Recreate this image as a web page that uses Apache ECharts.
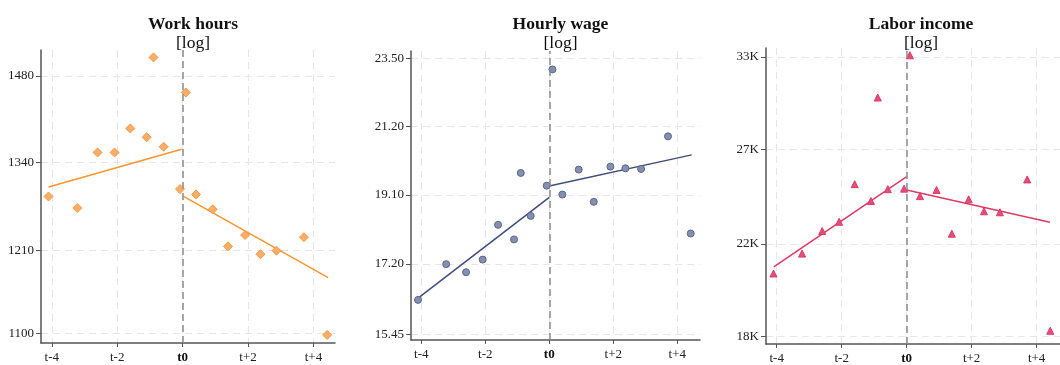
<!DOCTYPE html>
<html>
<head>
<meta charset="utf-8">
<script src="https://cdn.jsdelivr.net/npm/echarts@6/dist/echarts.min.js"></script>
<style>
html,body{margin:0;padding:0;background:#fff;}
#c{width:1060px;height:365px;}
</style>
</head>
<body>
<div id="c"></div>
<script>
// Event time (years relative to t0) of each binned point
var eventTime = [-4.1, -3.22, -2.6, -2.08, -1.6, -1.1, -0.89, -0.58, -0.08, 0.1, 0.41, 0.92, 1.39, 1.91, 2.38, 2.87, 3.71, 4.42];

// Series values (raw units, plotted on log scale)
var workHours = [1288, 1271, 1355, 1355, 1393, 1379, 1512, 1364, 1299, 1452, 1291, 1269, 1216, 1232, 1205, 1210, 1229, 1098];
var hourlyWage = [16.28, 17.19, 16.98, 17.31, 18.25, 17.85, 19.75, 18.50, 19.37, 23.12, 19.11, 19.85, 18.90, 19.94, 19.89, 19.87, 20.88, 18.01];
var laborIncome = [20630, 21540, 22620, 23080, 25040, 24140, 30220, 24770, 24800, 33120, 24400, 24730, 22490, 24230, 23610, 23560, 25300, 18220];

// Fitted lines: [x, value] endpoints, pre and post t0
var hoursFitPre = [[-4.1, 1302], [-0.03, 1360]];
var hoursFitPost = [[0.03, 1288], [4.45, 1173]];
var wageFitPre = [[-4.14, 16.30], [0, 19.03]];
var wageFitPost = [[0, 19.36], [4.45, 20.30]];
var incomeFitPre = [[-4.09, 20930], [0, 25460]];
var incomeFitPost = [[0, 24730], [4.41, 23060]];

// Tick values and labels
var xTicks = [-4, -2, 0, 2, 4];
var xTickLabels = ['t-4', 't-2', 't0', 't+2', 't+4'];
var hoursTicks = [1100, 1210, 1340, 1480];
var hoursTickLabels = ['1100', '1210', '1340', '1480'];
var wageTicks = [15.45, 17.20, 19.10, 21.20, 23.50];
var wageTickLabels = ['15.45', '17.20', '19.10', '21.20', '23.50'];
var incomeTicks = [18000, 22000, 27000, 33000];
var incomeTickLabels = ['18K', '22K', '27K', '33K'];

var titles = ['Work hours', 'Hourly wage', 'Labor income'];

var FONT = '"Liberation Serif", "DejaVu Serif", serif';

var panels = [
  {title: titles[0], vals: workHours, pre: hoursFitPre, post: hoursFitPost, ticks: hoursTicks, labels: hoursTickLabels,
   grid: {left: 41, top: 50, width: 294, height: 293}, xr: [-4.33, 4.66], yr: [6.9919, 7.3297],
   symbol: 'diamond', size: 9, fill: '#F8AE6A', edge: '#F39A45', line: '#F7962F'},
  {title: titles[1], vals: hourlyWage, pre: wageFitPre, post: wageFitPost, ticks: wageTicks, labels: wageTickLabels,
   grid: {left: 411, top: 51, width: 289, height: 289}, xr: [-4.32, 4.71], yr: [2.7289, 3.1687],
   symbol: 'circle', size: 7, fill: '#8590AE', edge: '#5C6690', line: '#414C7C'},
  {title: titles[2], vals: laborIncome, pre: incomeFitPre, post: incomeFitPost, ticks: incomeTicks, labels: incomeTickLabels,
   grid: {left: 766, top: 48, width: 300, height: 297}, xr: [-4.33, 4.72], yr: [9.7815, 10.4237],
   symbol: 'triangle', size: 7, fill: '#E2507A', edge: '#D93A66', line: '#DB3A63'}
];

var option = {
  animation: false,
  backgroundColor: '#ffffff',
  title: [], grid: [], xAxis: [], yAxis: [], series: []
};

panels.forEach(function (p, i) {
  var cx = p.grid.left + p.grid.width / 2;
  option.title.push({
    text: p.title, subtext: '[log]', left: cx, top: 10, textAlign: 'center', itemGap: 1,
    textStyle: {fontFamily: FONT, fontWeight: 'bold', fontSize: 17.5, color: '#111'},
    subtextStyle: {fontFamily: FONT, fontWeight: 'normal', fontSize: 17.5, color: '#111'}
  });
  option.grid.push(Object.assign({containLabel: false}, p.grid));
  option.xAxis.push({
    type: 'value', gridIndex: i, min: p.xr[0], max: p.xr[1],
    axisLine: {show: true, onZero: false, lineStyle: {color: '#555', width: 1.5}},
    axisTick: {show: true, length: 4, customValues: xTicks, lineStyle: {color: '#555'}},
    axisLabel: {
      customValues: xTicks, margin: 8, fontFamily: FONT, fontSize: 13, color: '#222',
      formatter: function (v) {
        var k = xTicks.indexOf(Math.round(v));
        var s = xTickLabels[k];
        return Math.round(v) === 0 ? '{b|' + s + '}' : s;
      },
      rich: {b: {fontFamily: FONT, fontSize: 13, fontWeight: 'bold', color: '#111'}}
    },
    splitLine: {show: true, lineStyle: {color: '#e6e6e6', type: [7, 5], width: 1}}
  });
  var logTicks = p.ticks.map(function (t) { return Math.log(t); });
  option.yAxis.push({
    type: 'value', gridIndex: i, min: p.yr[0], max: p.yr[1],
    axisLine: {show: true, onZero: false, lineStyle: {color: '#555', width: 1.5}},
    axisTick: {show: true, length: 5, customValues: logTicks, lineStyle: {color: '#555'}},
    axisLabel: {
      customValues: logTicks, margin: 7, fontFamily: FONT, fontSize: 13, color: '#222',
      formatter: (function (lt, labs) {
        return function (v) {
          var best = 0;
          for (var k = 1; k < lt.length; k++) {
            if (Math.abs(lt[k] - v) < Math.abs(lt[best] - v)) best = k;
          }
          return labs[best];
        };
      })(logTicks, p.labels)
    },
    splitLine: {show: true, lineStyle: {color: '#e6e6e6', type: [7, 5], width: 1}}
  });
  var toLog = function (pair) { return [pair[0], Math.log(pair[1])]; };
  option.series.push({
    type: 'line', xAxisIndex: i, yAxisIndex: i, data: p.pre.map(toLog), symbol: 'none',
    lineStyle: {color: p.line, width: 1.5}, z: 3,
    markLine: {
      silent: true, symbol: 'none', label: {show: false},
      lineStyle: {color: '#8a8a8a', type: [7, 4], width: 1.5},
      data: [{xAxis: 0}]
    }
  });
  option.series.push({
    type: 'line', xAxisIndex: i, yAxisIndex: i, data: p.post.map(toLog), symbol: 'none',
    lineStyle: {color: p.line, width: 1.5}, z: 3
  });
  option.series.push({
    type: 'scatter', xAxisIndex: i, yAxisIndex: i,
    data: eventTime.map(function (x, k) { return [x, Math.log(p.vals[k])]; }),
    symbol: p.symbol, symbolSize: p.size,
    itemStyle: {color: p.fill, borderColor: p.edge, borderWidth: 1, opacity: 1}, z: 4
  });
});

var chart = echarts.init(document.getElementById('c'), null, {renderer: 'canvas'});
chart.setOption(option);
</script>
</body>
</html>
